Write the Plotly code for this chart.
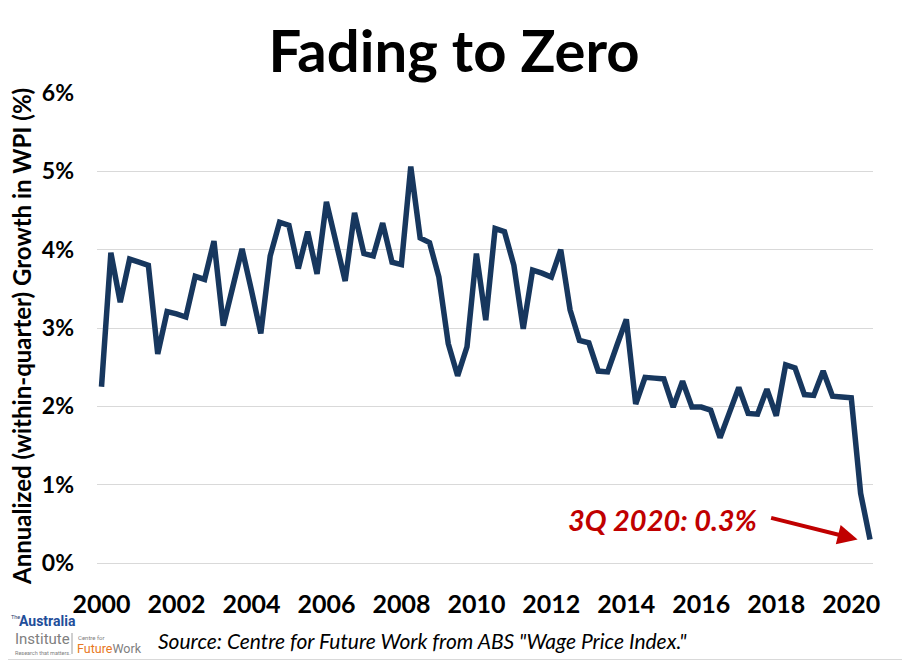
import plotly.graph_objects as go

# ---- data ----
start_year = 2000
wpi_growth = [
    2.25, 3.96, 3.33, 3.88, 3.84, 3.80, 2.67, 3.21, 3.18, 3.14,
    3.66, 3.62, 4.11, 3.03, 3.52, 4.01, 3.48, 2.93, 3.92, 4.35,
    4.31, 3.76, 4.23, 3.69, 4.61, 4.10, 3.60, 4.47, 3.95, 3.92,
    4.34, 3.84, 3.81, 5.06, 4.15, 4.09, 3.65, 2.80, 2.39, 2.76,
    3.95, 3.10, 4.27, 4.23, 3.80, 2.99, 3.74, 3.70, 3.65, 4.00,
    3.23, 2.84, 2.81, 2.45, 2.44, 2.78, 3.11, 2.03, 2.37, 2.36,
    2.35, 1.99, 2.32, 1.99, 1.99, 1.95, 1.60, 1.92, 2.24, 1.91,
    1.90, 2.22, 1.88, 2.53, 2.49, 2.15, 2.14, 2.45, 2.13, 2.12,
    2.11, 0.89, 0.30,
]
quarters = [start_year + 0.25 * i for i in range(len(wpi_growth))]
x_ticks = [2000, 2002, 2004, 2006, 2008, 2010, 2012, 2014, 2016, 2018, 2020]
y_ticks = [0, 1, 2, 3, 4, 5, 6]
last_label = "3Q 2020: 0.3%"

FONT = "Lato"
NARROW = "Liberation Sans Narrow, Roboto"
NAVY = "#17375E"
RED = "#C00000"

# the page body adds an 8px margin; lay out in reference pixels minus that offset
OX, OY = 8, 8
W, H = 910, 661
PL, PR, PT, PB = 97, 873, 93, 563          # plot area in reference pixels
ML, MR, MT, MB = PL - OX, W - (PR - OX), PT - OY, H - (PB - OY)
PW, PH = W - ML - MR, H - MT - MB


def px_x(p):
    return (p - OX - ML) / PW


def px_y(p):
    return (H - MB - (p - OY)) / PH


fig = go.Figure()
fig.add_trace(go.Scatter(
    x=quarters, y=wpi_growth, mode="lines",
    line=dict(color=NAVY, width=5.5), hoverinfo="skip", showlegend=False,
))

annotations = [
    # y axis title
    dict(text="Annualized (within-quarter) Growth in WPI (%)", textangle=-90,
         xref="paper", yref="paper", x=px_x(21), y=px_y(337),
         xanchor="center", yanchor="middle", showarrow=False,
         font=dict(family=FONT, size=24, color="black", weight="bold")),
    # label
    dict(text="<b><i>" + last_label + "</i></b>", xref="paper", yref="paper",
         x=px_x(662), y=px_y(519), xanchor="center", yanchor="middle",
         showarrow=False, font=dict(family=FONT, size=29, color=RED)),
    # arrow
    dict(text="", x=quarters[-1] - 0.33, y=0.30, xref="x", yref="y",
         ax=-88, ay=-22, showarrow=True, arrowhead=2, arrowsize=1.0,
         arrowwidth=4, arrowcolor=RED),
    # source
    dict(text="<i>Source: Centre for Future Work from ABS \"Wage Price Index.\"</i>",
         xref="paper", yref="paper", x=px_x(156), y=px_y(640),
         xanchor="left", yanchor="middle", showarrow=False,
         font=dict(family=FONT, size=21, color="black")),
    # logo approximation
    dict(text="The", xref="paper", yref="paper", x=px_x(8.5), y=px_y(617),
         xanchor="left", yanchor="middle", showarrow=False,
         font=dict(family=NARROW, size=5.5, color="#1F3A6E")),
    dict(text="Australia", xref="paper", yref="paper", x=px_x(17), y=px_y(621),
         xanchor="left", yanchor="middle", showarrow=False,
         font=dict(family=NARROW, size=14, color="#1F4E9A", weight="bold")),
    dict(text="Institute", xref="paper", yref="paper", x=px_x(13), y=px_y(639),
         xanchor="left", yanchor="middle", showarrow=False,
         font=dict(family=NARROW, size=15, color="#808080")),
    dict(text="Research that matters.", xref="paper", yref="paper", x=px_x(13), y=px_y(652.5),
         xanchor="left", yanchor="middle", showarrow=False,
         font=dict(family=NARROW, size=5.5, color="#808080")),
    dict(text="Centre for", xref="paper", yref="paper", x=px_x(76), y=px_y(637),
         xanchor="left", yanchor="middle", showarrow=False,
         font=dict(family=NARROW, size=6, color="#808080")),
    dict(text="<span style='color:#E87722'>Future</span>Work", xref="paper",
         yref="paper", x=px_x(75), y=px_y(648),
         xanchor="left", yanchor="middle", showarrow=False,
         font=dict(family=NARROW, size=12.5, color="#808080")),
]

shapes = [
    # outer light border
    dict(type="rect", xref="paper", yref="paper",
         x0=px_x(OX - 0.5), x1=px_x(908.5), y0=px_y(659.5), y1=px_y(OY - 0.5),
         line=dict(color="#D9D9D9", width=1), fillcolor="rgba(0,0,0,0)", layer="below"),
    # logo separator
    dict(type="line", xref="paper", yref="paper",
         x0=px_x(72), x1=px_x(72), y0=px_y(654), y1=px_y(633),
         line=dict(color="#A0A0A0", width=1)),
]

fig.update_layout(
    width=W, height=H,
    margin=dict(l=ML, r=MR, t=MT, b=MB),
    paper_bgcolor="white", plot_bgcolor="white",
    title=dict(text="<b>Fading to Zero</b>", x=(454 - OX) / W, xref="container", xanchor="center",
               y=1 - (52 - OY) / H, yref="container", yanchor="middle",
               font=dict(family=FONT, size=58, color="black")),
    xaxis=dict(range=[1999.88, 2020.58], tickvals=x_ticks, ticktext=[str(t) for t in x_ticks],
               showgrid=False, zeroline=False, showline=False, ticks="",
               ticklabelstandoff=24,
               tickfont=dict(family=FONT, size=25, color="black", weight="bold")),
    yaxis=dict(range=[0, 6], tickvals=y_ticks, ticktext=[f"{t}%" for t in y_ticks],
               showgrid=True, gridcolor="#D9D9D9", gridwidth=1,
               zeroline=True, zerolinecolor="#D9D9D9", zerolinewidth=1,
               showline=False, ticks="", ticklabelstandoff=22,
               tickfont=dict(family=FONT, size=23, color="black", weight="bold")),
    annotations=annotations,
    shapes=shapes,
    showlegend=False,
)

fig.write_html("out.html")
